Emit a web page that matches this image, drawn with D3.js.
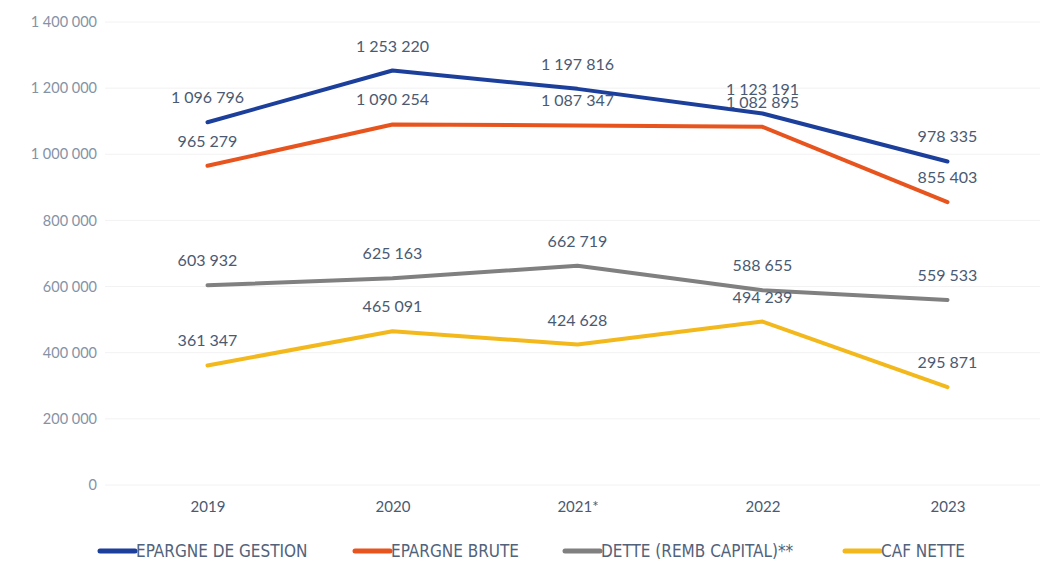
<!DOCTYPE html>
<html>
<head>
<meta charset="utf-8">
<script src="https://cdn.jsdelivr.net/npm/d3@7"></script>
<style>
  body { margin: 0; background: #fff; }
  svg { display: block; }
</style>
</head>
<body>
<svg id="chart" width="1049" height="576"></svg>
<script>
// ---- data ----
let years = ["2019", "2020", "2021*", "2022", "2023"]
let epargneGestion = [1096796, 1253220, 1197816, 1123191, 978335]
let epargneBrute = [965279, 1090254, 1087347, 1082895, 855403]
let dette = [603932, 625163, 662719, 588655, 559533]
let cafNette = [361347, 465091, 424628, 494239, 295871]
let seriesNames = ["EPARGNE DE GESTION", "EPARGNE BRUTE", "DETTE (REMB CAPITAL)**", "CAF NETTE"]
let seriesColors = ["#1c3f9b", "#e8541e", "#808080", "#f2b81c"]
let yTicks = [0, 200000, 400000, 600000, 800000, 1000000, 1200000, 1400000]

let series = [epargneGestion, epargneBrute, dette, cafNette]

// ---- setup ----
let svg = d3.select("#chart")
let fontFam = "Lato, 'Open Sans', sans-serif"
let txtColor = "#4a5a72"

let x = d3.scalePoint().domain(years).range([115, 1040]).padding(0.5)
let y = d3.scaleLinear().domain([0, 1400000]).range([485, 22])

let fmt = function (v) { return d3.format(",")(v).replace(/,/g, " ") }

// grid lines (very faint)
svg.append('g')
    .selectAll('line')
    .data(yTicks)
    .enter()
        .append('line')
        .attr('x1', 105).attr('x2', 1040)
        .attr('y1', function (d) { return y(d) })
        .attr('y2', function (d) { return y(d) })
        .attr('stroke', '#f2f2f2')
        .attr('stroke-width', 1)

// y axis labels
let yAxis = d3.axisLeft(y).tickValues(yTicks).tickSize(0).tickPadding(0).tickFormat(fmt)
let yG = svg.append('g').attr('transform', 'translate(97,0)').call(yAxis)
yG.select('.domain').remove()
yG.selectAll('text')
    .attr('font-family', fontFam)
    .attr('font-size', 14.5)
    .attr('fill', '#8592a6')

// x axis labels
let xAxis = d3.axisBottom(x).tickSize(0).tickPadding(0)
let xG = svg.append('g').attr('transform', 'translate(0,501)').call(xAxis)
xG.select('.domain').remove()
xG.selectAll('text')
    .attr('font-family', fontFam)
    .attr('font-size', 15)
    .attr('fill', txtColor)

// lines
let line = d3.line()
    .x(function (d, i) { return x(years[i]) })
    .y(function (d) { return y(d) })

svg.append('g')
    .selectAll('path')
    .data(series)
    .enter()
        .append('path')
        .attr('d', line)
        .attr('fill', 'none')
        .attr('stroke', function (d, i) { return seriesColors[i] })
        .attr('stroke-width', 4)
        .attr('stroke-linecap', 'round')
        .attr('stroke-linejoin', 'round')

// data labels
series.forEach(function (s, si) {
    svg.append('g')
        .selectAll('text')
        .data(s)
        .enter()
            .append('text')
            .attr('x', function (d, i) { return x(years[i]) })
            .attr('y', function (d) { return y(d) - 19 })
            .attr('text-anchor', 'middle')
            .attr('font-family', fontFam)
            .attr('font-size', 16)
            .attr('fill', txtColor)
            .text(fmt)
})

// legend
let legendX = [100, 355, 565, 845]
let legend = svg.append('g')
    .selectAll('g')
    .data(seriesNames)
    .enter()
        .append('g')
        .attr('transform', function (d, i) { return 'translate(' + legendX[i] + ',551)' })

legend.append('line')
    .attr('x1', 0).attr('x2', 35)
    .attr('y1', 0).attr('y2', 0)
    .attr('stroke', function (d, i) { return seriesColors[i] })
    .attr('stroke-width', 5)
    .attr('stroke-linecap', 'round')

legend.append('text')
    .attr('x', 36)
    .attr('y', 6)
    .attr('font-family', "'DejaVu Sans Condensed', sans-serif")
    .attr('font-size', 17)
    .attr('fill', '#52627a')
    .text(function (d) { return d })
</script>
</body>
</html>
